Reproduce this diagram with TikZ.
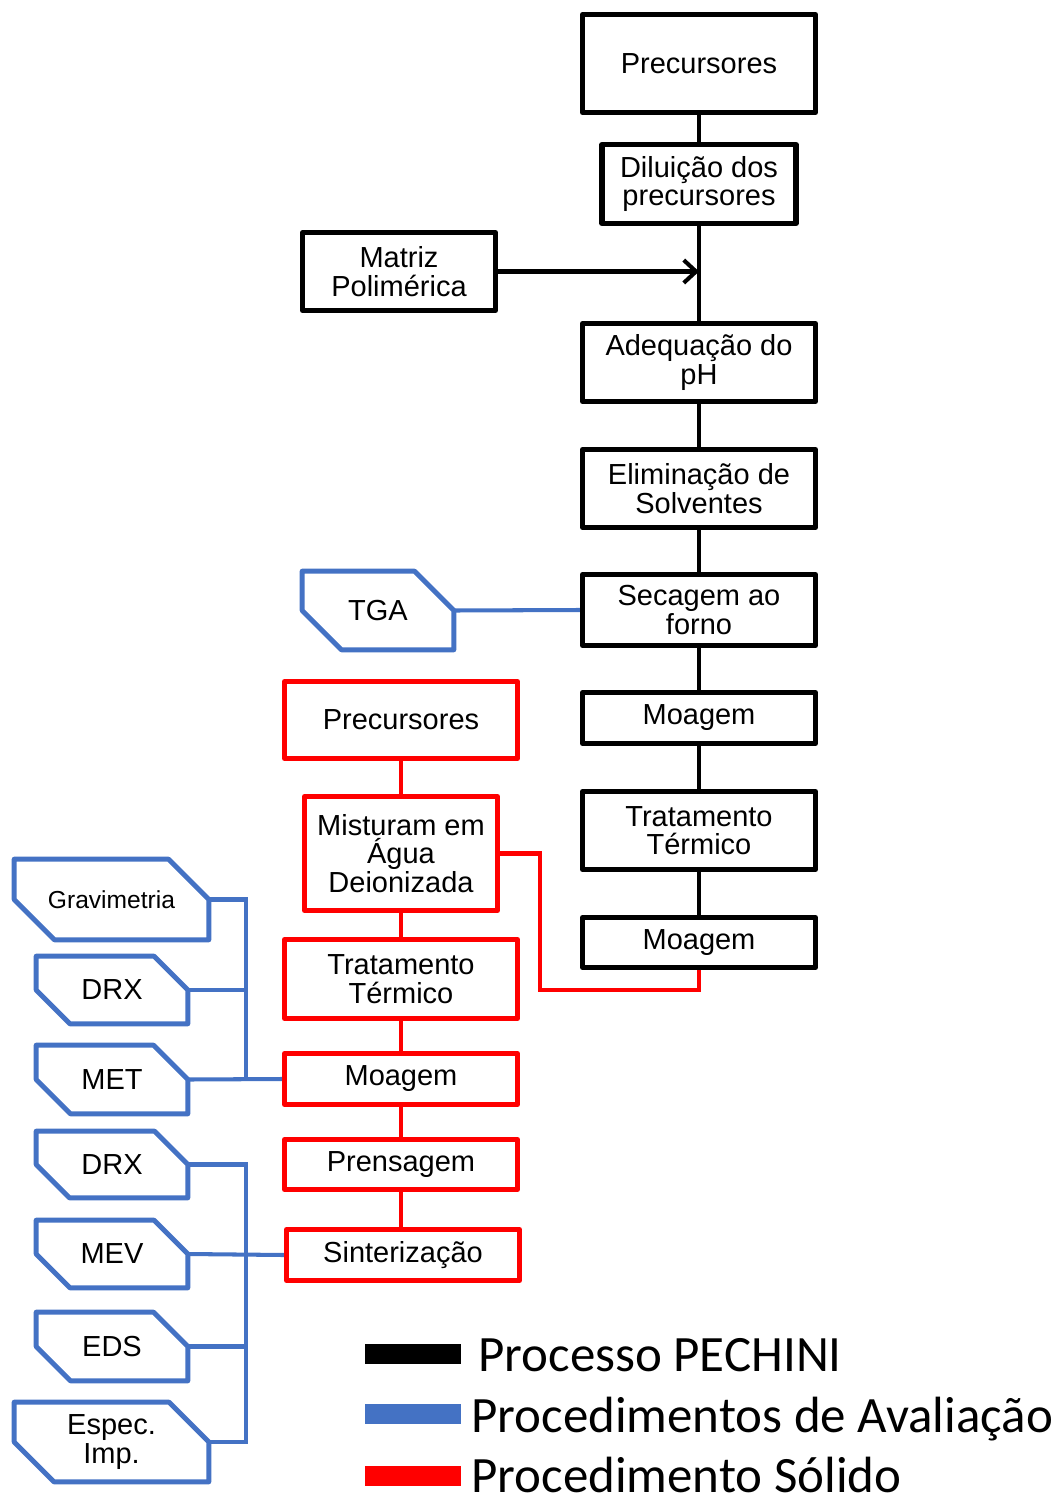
\documentclass[tikz,border=0pt]{standalone}
\usepackage{fontspec}
\setmainfont{Liberation Sans}
\newfontfamily\legendfont{Carlito}
\usepackage{tikz}
\usetikzlibrary{arrows.meta,calc}
\definecolor{evalBlue}{HTML}{4472C4}
\definecolor{solidRed}{HTML}{FF0000}

\begin{document}
\begin{tikzpicture}[x=0.02cm,y=-0.02cm,
  every node/.style={font=\fontsize{16.5}{16.2}\selectfont,align=center,inner sep=0pt},
  pechbox/.style={draw=black,line width=2.9pt,line join=round,minimum width=4.66cm},
  solidbox/.style={draw=solidRed,line width=2.9pt,line join=round,minimum width=4.66cm},
  evalbox/.style={minimum width=3.02cm},
  pechline/.style={black,line width=2.3pt},
  solidline/.style={solidRed,line width=2.3pt},
  evalline/.style={evalBlue,line width=2.3pt},
  legbar/.style={minimum width=1.94cm,minimum height=0.4cm},
  legtext/.style={anchor=base west,font=\legendfont\fontsize{29}{30}\selectfont}]
  \useasboundingbox (0,0) rectangle (1060,1496);

  % Pechini route
  \node[pechbox,minimum height=1.96cm] (prec1) at (699,63.5) {Precursores};
  \node[pechbox,minimum width=3.88cm,minimum height=1.58cm] (dil) at (699,184) {Diluição dos\\precursores};
  \node[pechbox,minimum width=3.86cm,minimum height=1.56cm] (matriz) at (399,271.5) {Matriz\\Polimérica};
  \node[pechbox,minimum height=1.56cm] (adeq) at (699,362.5) {Adequação do\\pH};
  \node[pechbox,minimum height=1.56cm] (elim) at (699,488.5) {Eliminação de\\Solventes};
  \node[pechbox,minimum height=1.42cm] (sec) at (699,610) {Secagem ao\\forno};
  \node[pechbox,minimum height=1.02cm] (moag1) at (699,718) {Moagem};
  \node[pechbox,minimum height=1.56cm] (trat1) at (699,830.5) {Tratamento\\Térmico};
  \node[pechbox,minimum height=1.0cm] (moag2) at (699,942.5) {Moagem};

  % solid route
  \node[solidbox,minimum height=1.54cm] (prec2) at (401,720) {Precursores};
  \node[solidbox,minimum width=3.86cm,minimum height=2.28cm] (mist) at (401,853.5) {Misturam em\\Água\\Deionizada};
  \node[solidbox,minimum height=1.58cm] (trat2) at (401,979) {Tratamento\\Térmico};
  \node[solidbox,minimum height=1.02cm] (moag3) at (401,1079) {Moagem};
  \node[solidbox,minimum height=1.0cm] (prens) at (401,1164.5) {Prensagem};
  \node[solidbox,minimum height=1.02cm] (sint) at (403,1255) {Sinterização};

  % evaluation
  \node[evalbox,minimum height=1.56cm] (tga) at (378,610.5) {TGA};
  \node[evalbox,minimum width=3.88cm,minimum height=1.6cm,font=\fontsize{14}{14}\selectfont] (grav) at (111.5,899.5) {Gravimetria};
  \node[evalbox,minimum height=1.34cm] (drx1) at (112,990) {DRX};
  \node[evalbox,minimum height=1.36cm] (met) at (112,1079.5) {MET};
  \node[evalbox,minimum height=1.32cm] (drx2) at (112,1164.5) {DRX};
  \node[evalbox,minimum height=1.34cm] (mev) at (112,1254) {MEV};
  \node[evalbox,minimum height=1.36cm] (eds) at (112,1346.5) {EDS};
  \node[evalbox,minimum width=3.88cm,minimum height=1.58cm] (esp) at (111.5,1442) {Espec.\\Imp.};
  \foreach \n in {tga,grav,drx1,met,drx2,mev,eds,esp}
    \draw[evalline,line width=2.8pt,line join=round] (\n.north west)
      -- ($(\n.north east)!1!-90:(\n.east)$) -- (\n.east) -- (\n.south east)
      -- ($(\n.south west)!1!-90:(\n.west)$) -- (\n.west) -- cycle;

  % connectors
  \foreach \a/\b in {prec1/dil,dil/adeq,adeq/elim,elim/sec,sec/moag1,moag1/trat1,trat1/moag2}
    \draw[pechline] (\a) -- (\b);
  \draw[pechline,-{Straight Barb[length=7pt,width=13pt]}] (matriz.east) -- (matriz.east -| dil.south);
  \foreach \a/\b in {prec2/mist,mist/trat2,trat2/moag3,moag3/prens}
    \draw[solidline] (\a) -- (\b);
  \draw[solidline] (prens.south) -- (prens.south |- sint.north);
  \coordinate (rbend) at (540,990);
  \draw[solidline] (mist.east) -| (rbend) -| (moag2.south);
  \draw[evalline] (tga.east) -- (sec.west);
  \coordinate (busA) at (246,899.5);
  \draw[evalline] (grav.east) -- (busA) -- (busA |- met.east);
  \draw[evalline] (drx1.east) -- (drx1.east -| busA);
  \draw[evalline] (met.east) -- (moag3.west);
  \coordinate (busB) at (246,1164.5);
  \draw[evalline] (drx2.east) -- (busB) -- (busB |- esp.east) -- (esp.east);
  \draw[evalline] (eds.east) -- (eds.east -| busB);
  \draw[evalline] (mev.east) -- (sint.west);

  % legend
  \node[legbar,fill=black] (barPech) at (413,1354) {};
  \node[legbar,fill=evalBlue] (barEval) at (413,1414) {};
  \node[legbar,fill=solidRed] (barSolid) at (413,1476) {};
  \node[legtext] (txtPech) at (478,1371) {Processo PECHINI};
  \node[legtext] (txtEval) at (471,1432) {Procedimentos de Avaliação};
  \node[legtext] (txtSolid) at (471,1492) {Procedimento Sólido};
\end{tikzpicture}
\end{document}
